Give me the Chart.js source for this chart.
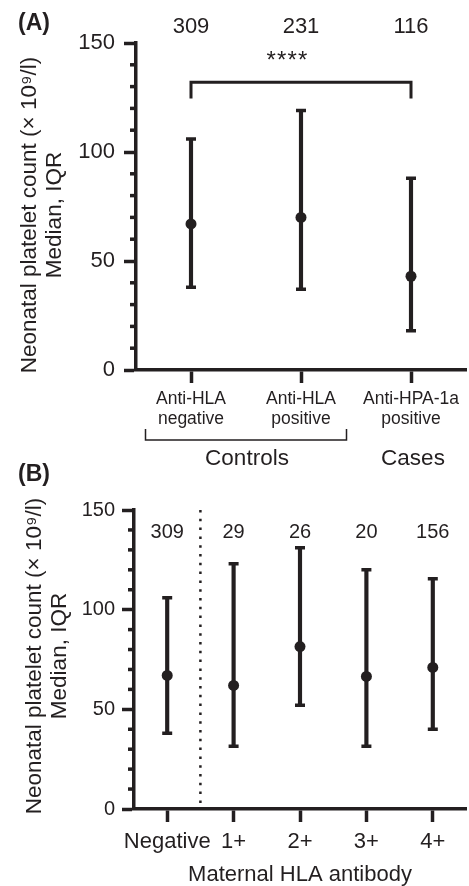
<html>

<head>
  <script src="https://cdn.jsdelivr.net/npm/chart.js"></script>
  <style>
    body { margin: 0; background: #fff; }
    canvas { position: absolute; left: 0; }
  </style>
</head>

<body>
  <canvas id="chartA" width="469" height="480" style="top: 0px;"></canvas>
  <canvas id="chartB" width="469" height="431" style="top: 455px;"></canvas>
  <script>
    const ink = '#231f20';
    const fam = "'Liberation Sans', Arial, sans-serif";

    // (A) controls vs cases
    const groupsA = [['Anti-HLA', 'negative'], ['Anti-HLA', 'positive'], ['Anti-HPA-1a', 'positive']];
    const nA = [309, 231, 116];
    const medianA = [67, 70, 43];
    const q1A = [38, 37, 18];
    const q3A = [106, 119, 88];

    // (B) by maternal HLA antibody level
    const groupsB = ['Negative', '1+', '2+', '3+', '4+'];
    const nB = [309, 29, 26, 20, 156];
    const medianB = [67, 62, 81.5, 66.5, 71];
    const q1B = [38, 31.5, 52, 31.5, 40];
    const q3B = [106, 123, 131, 120, 115.5];

    const yTitle = ['Neonatal platelet count (× 10⁹/l)', 'Median, IQR'];

    const errorSets = (med, lo, hi) => [
      { type: 'line', data: med, showLine: false, pointRadius: 5.5, pointBackgroundColor: ink, pointBorderWidth: 0, order: 0 },
      { type: 'line', data: lo, showLine: false, pointStyle: 'line', pointRadius: 5, pointBorderColor: ink, pointBorderWidth: 3.5, order: 1 },
      { type: 'line', data: hi, showLine: false, pointStyle: 'line', pointRadius: 5, pointBorderColor: ink, pointBorderWidth: 3.5, order: 1 },
      { type: 'bar', data: lo.map((v, i) => [v, hi[i]]), backgroundColor: ink, barThickness: 3.5, order: 2 }
    ];

    const yAxis = (width, size, pad) => ({
      min: 0, max: 150,
      afterFit: s => { s.width = width; },
      border: { color: ink, width: 3.5 },
      grid: { drawOnChartArea: false, tickLength: 12, tickWidth: 3.5, tickColor: ink },
      ticks: { stepSize: 50, padding: pad, color: ink, font: { family: fam, size: size } }
    });

    const xAxis = (height, size, lh, pad) => ({
      offset: true,
      afterFit: s => { s.height = height; },
      border: { color: ink, width: 3.5 },
      grid: { offset: false, drawOnChartArea: false, tickLength: 13, tickWidth: 3.5, tickColor: ink },
      ticks: { padding: pad, color: ink, maxRotation: 0, autoSkip: false, font: { family: fam, size: size, lineHeight: lh } }
    });

    // minor ticks, n labels, panel tag, y title
    const decor = (tag, tagY, counts, nSize, nOffset, titleX, titleY, extra) => ({
      id: 'decor' + tag,
      afterDraw(chart) {
        const { ctx, chartArea: ca, scales: { x, y } } = chart;
        ctx.save();
        ctx.strokeStyle = ink;
        ctx.fillStyle = ink;
        ctx.lineWidth = 3.5;
        for (let v = 10; v < 150; v += 10) {
          if (v % 50 === 0) continue;
          const py = y.getPixelForValue(v);
          ctx.beginPath();
          ctx.moveTo(ca.left - 6, py);
          ctx.lineTo(ca.left, py);
          ctx.stroke();
        }
        ctx.textAlign = 'center';
        ctx.textBaseline = 'middle';
        ctx.font = nSize + 'px ' + fam;
        counts.forEach((n, i) => ctx.fillText(n, x.getPixelForValue(i), ca.top + nOffset));

        ctx.save();
        ctx.font = '22.5px ' + fam;
        ctx.translate(titleX, titleY);
        ctx.rotate(-Math.PI / 2);
        yTitle.forEach((t, i) => ctx.fillText(t, 0, i * 25));
        ctx.restore();

        ctx.textAlign = 'left';
        ctx.font = 'bold 23px ' + fam;
        ctx.fillText(tag, 18, tagY);
        extra(ctx, ca, x, y);
        ctx.restore();
      }
    });

    const extraA = (ctx, ca, x, y) => {
      const x0 = x.getPixelForValue(0), x1 = x.getPixelForValue(1), x2 = x.getPixelForValue(2);
      // significance bracket
      const top = y.getPixelForValue(132), foot = y.getPixelForValue(124.5);
      ctx.lineWidth = 3;
      ctx.beginPath();
      ctx.moveTo(x0, foot); ctx.lineTo(x0, top); ctx.lineTo(x2, top); ctx.lineTo(x2, foot);
      ctx.stroke();
      ctx.font = '24px ' + fam;
      ctx.textAlign = 'center';
      ctx.textBaseline = 'alphabetic';
      for (let k = 0; k < 4; k++) ctx.fillText('*', x1 - 14 + (k - 1.5) * 10.5, top - 14);
      // controls bracket
      const mid = (x0 + x1) / 2;
      const by = ca.bottom + 70;
      ctx.lineWidth = 1.5;
      ctx.beginPath();
      ctx.moveTo(mid - 100.5, by - 11); ctx.lineTo(mid - 100.5, by); ctx.lineTo(mid + 100.5, by); ctx.lineTo(mid + 100.5, by - 11);
      ctx.stroke();
      ctx.font = '22.5px ' + fam;
      ctx.textBaseline = 'middle';
      ctx.fillText('Controls', mid + 1, ca.bottom + 89);
      ctx.fillText('Cases', x2 + 2, ca.bottom + 89);
    };

    const extraB = (ctx, ca, x, y) => {
      const px = x.getPixelForValue(0.5);
      ctx.lineWidth = 2.5;
      ctx.setLineDash([2.5, 6.3]);
      ctx.beginPath();
      ctx.moveTo(px, y.getPixelForValue(150));
      ctx.lineTo(px, y.getPixelForValue(0));
      ctx.stroke();
      ctx.setLineDash([]);
    };

    const common = {
      responsive: false,
      animation: false,
      events: [],
      plugins: { legend: { display: false }, tooltip: { enabled: false } }
    };

    new Chart(document.getElementById('chartA'), {
      type: 'bar',
      data: { labels: groupsA, datasets: errorSets(medianA, q1A, q3A) },
      options: {
        ...common,
        layout: { autoPadding: false, padding: { top: 43, right: 3, left: 0, bottom: 0 } },
        scales: { x: xAxis(110, 17.5, 1.15, 6), y: yAxis(136, 22, 9) }
      },
      plugins: [decor('(A)', 24, nA, 22, -16, 30, 215, extraA)]
    });

    const xB = xAxis(77, 22, 1.2, 6.5);
    xB.title = { display: true, text: 'Maternal HLA antibody', color: ink, font: { family: fam, size: 22, lineHeight: 1 }, padding: 0 };

    new Chart(document.getElementById('chartB'), {
      type: 'bar',
      data: { labels: groupsB, datasets: errorSets(medianB, q1B, q3B) },
      options: {
        ...common,
        layout: { autoPadding: false, padding: { top: 55, right: 3, left: 0, bottom: 0 } },
        scales: { x: xB, y: yAxis(134, 20, 7) }
      },
      plugins: [decor('(B)', 20, nB, 20, 22, 35, 201, extraB)]
    });
  </script>
</body>

</html>
